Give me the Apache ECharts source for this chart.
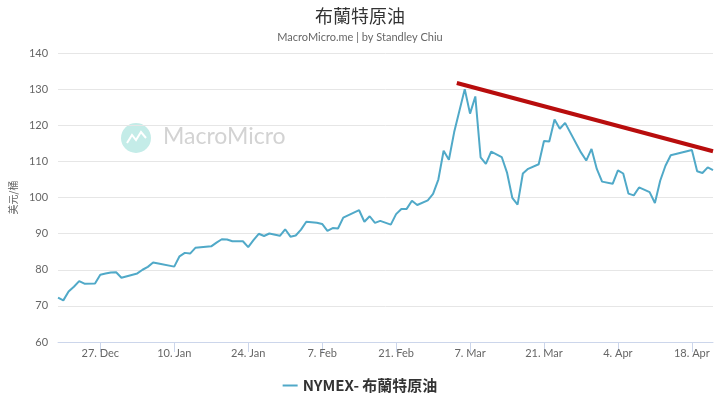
<!DOCTYPE html>
<html>
<head>
<meta charset="utf-8">
<script src="https://cdn.jsdelivr.net/npm/echarts@6/dist/echarts.min.js"></script>
<style>html,body{margin:0;padding:0;background:#fff}#c{width:720px;height:405px}</style>
</head>
<body>
<div id="c"></div>
<script>
// ---- data ----
const dates = [
"2021-12-19","2021-12-20","2021-12-21","2021-12-22","2021-12-23","2021-12-24","2021-12-26","2021-12-27","2021-12-28","2021-12-29","2021-12-30","2021-12-31",
"2022-01-03","2022-01-04","2022-01-05","2022-01-06","2022-01-07","2022-01-10","2022-01-11","2022-01-12","2022-01-13","2022-01-14",
"2022-01-17","2022-01-18","2022-01-19","2022-01-20","2022-01-21","2022-01-23","2022-01-24","2022-01-25","2022-01-26","2022-01-27","2022-01-28",
"2022-01-30","2022-01-31","2022-02-01","2022-02-02","2022-02-03","2022-02-04","2022-02-06","2022-02-07","2022-02-08","2022-02-09","2022-02-10","2022-02-11",
"2022-02-14","2022-02-15","2022-02-16","2022-02-17","2022-02-18","2022-02-20","2022-02-21","2022-02-22","2022-02-23","2022-02-24","2022-02-25",
"2022-02-27","2022-02-28","2022-03-01","2022-03-02","2022-03-03","2022-03-04","2022-03-06","2022-03-07","2022-03-08","2022-03-09","2022-03-10","2022-03-11",
"2022-03-13","2022-03-14","2022-03-15","2022-03-16","2022-03-17","2022-03-18","2022-03-20","2022-03-21","2022-03-22","2022-03-23","2022-03-24","2022-03-25",
"2022-03-28","2022-03-29","2022-03-30","2022-03-31","2022-04-01","2022-04-03","2022-04-04","2022-04-05","2022-04-06","2022-04-07","2022-04-08",
"2022-04-10","2022-04-11","2022-04-12","2022-04-13","2022-04-14","2022-04-18","2022-04-19","2022-04-20","2022-04-21","2022-04-22"
];
const brent = [
72.3,71.52,73.98,75.29,76.85,76.14,76.2,78.60,78.94,79.23,79.32,77.78,
78.98,80.00,80.80,81.99,81.75,80.87,83.72,84.67,84.47,86.06,
86.48,87.51,88.44,88.38,87.89,87.9,86.27,88.20,89.96,89.34,90.03,
89.4,91.21,89.16,89.47,91.11,93.27,93.0,92.69,90.78,91.55,91.41,94.44,
96.48,93.28,94.81,92.97,93.54,92.5,95.39,96.84,96.84,99.08,97.93,
99.2,100.99,104.97,112.93,110.46,118.11,130.0,123.21,127.98,111.14,109.33,112.67,
111.2,106.90,99.91,98.02,106.64,107.93,109.2,115.62,115.48,121.60,119.03,120.65,
112.48,110.23,113.45,107.91,104.39,103.8,107.53,106.64,101.07,100.58,102.78,
101.5,98.48,104.64,108.78,111.70,113.16,107.25,106.80,108.33,107.6
];
const trendDates = ["2022-03-04T12","2022-04-22T00"];
const trendValues = [131.7, 112.8];
const xTickDates = ["2021-12-27","2022-01-10","2022-01-24","2022-02-07","2022-02-21","2022-03-07","2022-03-21","2022-04-04","2022-04-18"];
const xMin = "2021-12-19", xMax = "2022-04-22";
const yTicks = [60,70,80,90,100,110,120,130,140];
const monthNames = ["Jan","Feb","Mar","Apr","May","Jun","Jul","Aug","Sep","Oct","Nov","Dec"];

function ts(s){
  const [d,h] = s.split("T");
  const p = d.split("-").map(Number);
  return Date.UTC(p[0], p[1]-1, p[2], h ? Number(h) : 0);
}

const seriesData = dates.map((d,i)=>[ts(d), brent[i]]);
const trendData = trendDates.map((d,i)=>[ts(d), trendValues[i]]);
const tickVals = xTickDates.map(ts);

const chart = echarts.init(document.getElementById('c'), null, {renderer:'canvas'});
const baseFont = 'Lato,"Noto Sans","Noto Sans CJK TC",sans-serif';
chart.setOption({
  animation:false,
  backgroundColor:'#ffffff',
  title:{
    text:'布蘭特原油',
    subtext:'MacroMicro.me | by Standley Chiu',
    left:'center', top:2, itemGap:7,
    textStyle:{fontFamily:'"Noto Sans CJK TC",sans-serif', fontSize:18, fontWeight:'normal', color:'#333333'},
    subtextStyle:{fontFamily:baseFont, fontSize:11, color:'#666666'}
  },
  legend:{
    data:['NYMEX- 布蘭特原油'],
    left:'center', top:373,
    icon:'rect', itemWidth:15, itemHeight:2,
    textStyle:{fontFamily:'"Noto Sans CJK TC","Open Sans",sans-serif', fontSize:15, fontWeight:'bold', color:'#333333'}
  },
  graphic:[
    {type:'circle', shape:{cx:136, cy:138, r:15}, style:{fill:'#c4ece8'}, silent:true, z:0},
    {type:'polyline', shape:{points:[[127,143],[132,135],[136,140],[141,132],[146,138]]}, style:{stroke:'#ffffff', lineWidth:2, fill:null}, silent:true, z:1},
    {type:'text', left:163, top:125, style:{text:'MacroMicro', fontFamily:baseFont, fontSize:23, fill:'#d3d3d3'}, silent:true, z:0}
  ],
  grid:{left:52, right:7, top:53, bottom:63, containLabel:false},
  xAxis:{
    type:'value',
    min:ts(xMin), max:ts(xMax),
    axisLine:{show:true, lineStyle:{color:'#ccd6eb', width:1}},
    axisTick:{show:true, customValues:tickVals, length:10, lineStyle:{color:'#ccd6eb'}},
    axisLabel:{
      customValues:tickVals, margin:6,
      fontFamily:baseFont, fontSize:11, color:'#666666',
      formatter:function(v){ const d=new Date(v); return d.getUTCDate()+'. '+monthNames[d.getUTCMonth()]; }
    },
    splitLine:{show:false}
  },
  yAxis:{
    type:'value', min:yTicks[0], max:yTicks[yTicks.length-1], interval:10,
    name:'美元/桶', nameLocation:'middle', nameGap:37, nameRotate:90,
    nameTextStyle:{fontFamily:'"Noto Sans CJK TC",sans-serif', fontSize:10, color:'#666666'},
    axisLine:{show:false}, axisTick:{show:false},
    axisLabel:{fontFamily:baseFont, fontSize:11, color:'#666666', margin:10},
    splitLine:{lineStyle:{color:'#e6e6e6', width:1}}
  },
  series:[
    {name:'NYMEX- 布蘭特原油', type:'line', data:seriesData, showSymbol:false, symbol:'none',
     itemStyle:{color:'#50a9c8'}, lineStyle:{color:'#50a9c8', width:2}, z:3},
    {name:'trend', type:'line', data:trendData, showSymbol:false, symbol:'none', silent:true,
     itemStyle:{color:'#b80d0d'}, lineStyle:{color:'#b80d0d', width:4}, z:4}
  ]
});
</script>
</body>
</html>
